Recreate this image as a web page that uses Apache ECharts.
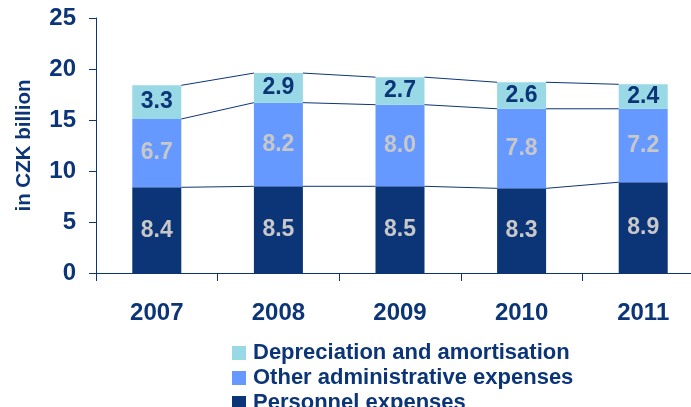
<!DOCTYPE html>
<html><head><meta charset="utf-8">
<script src="https://cdn.jsdelivr.net/npm/echarts@6/dist/echarts.min.js"></script>
<style>html,body{margin:0;padding:0;background:#fff;overflow:hidden;width:691px;height:407px}#c{width:712px;height:440px}</style>
</head><body><div id="c"></div>
<script>
const categories = ['2007','2008','2009','2010','2011'];
const personnel = [8.4, 8.5, 8.5, 8.3, 8.9];
const otherAdmin = [6.7, 8.2, 8.0, 7.8, 7.2];
const depreciation = [3.3, 2.9, 2.7, 2.6, 2.4];
const yTicks = [0, 5, 10, 15, 20, 25];
const legendNames = ['Depreciation and amortisation', 'Other administrative expenses', 'Personnel expenses'];

const navy = '#0B3577';
const cMid = '#6699FF';
const cLight = '#99D9E6';
const BAR_W = 49;
const font = 'Liberation Sans, Arial, sans-serif';

const cum1 = personnel.slice();
const cum2 = personnel.map((v, i) => v + otherAdmin[i]);
const cum3 = cum2.map((v, i) => v + depreciation[i]);
const connData = [];
[cum1, cum2, cum3].forEach(arr => {
  for (let i = 0; i < arr.length - 1; i++) connData.push([i, arr[i], arr[i + 1]]);
});

const chart = echarts.init(document.getElementById('c'), null, {renderer: 'canvas'});
const labelBase = {show: true, position: 'inside', fontFamily: font, fontWeight: 'bold', fontSize: 23};
const legends = legendNames.map((n, k) => ({
  orient: 'vertical', left: 232, top: 342 + k * 25, padding: 0, itemWidth: 14, itemHeight: 14,
  data: [n], selectedMode: false, icon: 'rect',
  textStyle: {color: navy, fontFamily: font, fontWeight: 'bold', fontSize: 22, lineHeight: 14, padding: [0, 0, 0, 2]}
}));
chart.setOption({
  animation: false,
  grid: {left: 96, width: 608, top: 18, height: 255, containLabel: false},
  legend: legends,
  xAxis: {
    type: 'category', data: categories,
    axisLine: {lineStyle: {color: navy, width: 1}},
    axisTick: {show: true, length: 8, lineStyle: {color: navy}},
    axisLabel: {color: navy, fontFamily: font, fontWeight: 'bold', fontSize: 24, margin: 28}
  },
  yAxis: {
    type: 'value', min: 0, max: 25, interval: 5,
    name: 'in CZK billion', nameLocation: 'middle', nameGap: 61, nameRotate: 90,
    nameTextStyle: {color: navy, fontFamily: font, fontWeight: 'bold', fontSize: 20.5},
    axisLine: {show: true, lineStyle: {color: navy, width: 1}},
    axisTick: {show: true, length: 7, lineStyle: {color: navy}},
    splitLine: {show: false},
    axisLabel: {color: navy, fontFamily: font, fontWeight: 'bold', fontSize: 24, margin: 20,
      formatter: v => yTicks.includes(v) ? String(v) : ''}
  },
  series: [
    {name: 'Personnel expenses', type: 'bar', stack: 's', barWidth: BAR_W, data: personnel,
     itemStyle: {color: navy}, label: Object.assign({}, labelBase, {color: '#C8C8C8', formatter: p => p.value.toFixed(1)})},
    {name: 'Other administrative expenses', type: 'bar', stack: 's', barWidth: BAR_W, data: otherAdmin,
     itemStyle: {color: cMid}, label: Object.assign({}, labelBase, {color: '#C8C8C8', formatter: p => p.value.toFixed(1)})},
    {name: 'Depreciation and amortisation', type: 'bar', stack: 's', barWidth: BAR_W, data: depreciation,
     itemStyle: {color: cLight}, label: Object.assign({}, labelBase, {color: navy, formatter: p => p.value.toFixed(1)})},
    {type: 'custom', silent: true, data: connData, z: 5,
     renderItem: (params, api) => {
       const i = api.value(0);
       const p1 = api.coord([i, api.value(1)]);
       const p2 = api.coord([i + 1, api.value(2)]);
       return {type: 'line', shape: {x1: p1[0] + BAR_W / 2, y1: p1[1], x2: p2[0] - BAR_W / 2, y2: p2[1]},
         style: {stroke: navy, lineWidth: 1}};
     }}
  ]
});
</script></body></html>
